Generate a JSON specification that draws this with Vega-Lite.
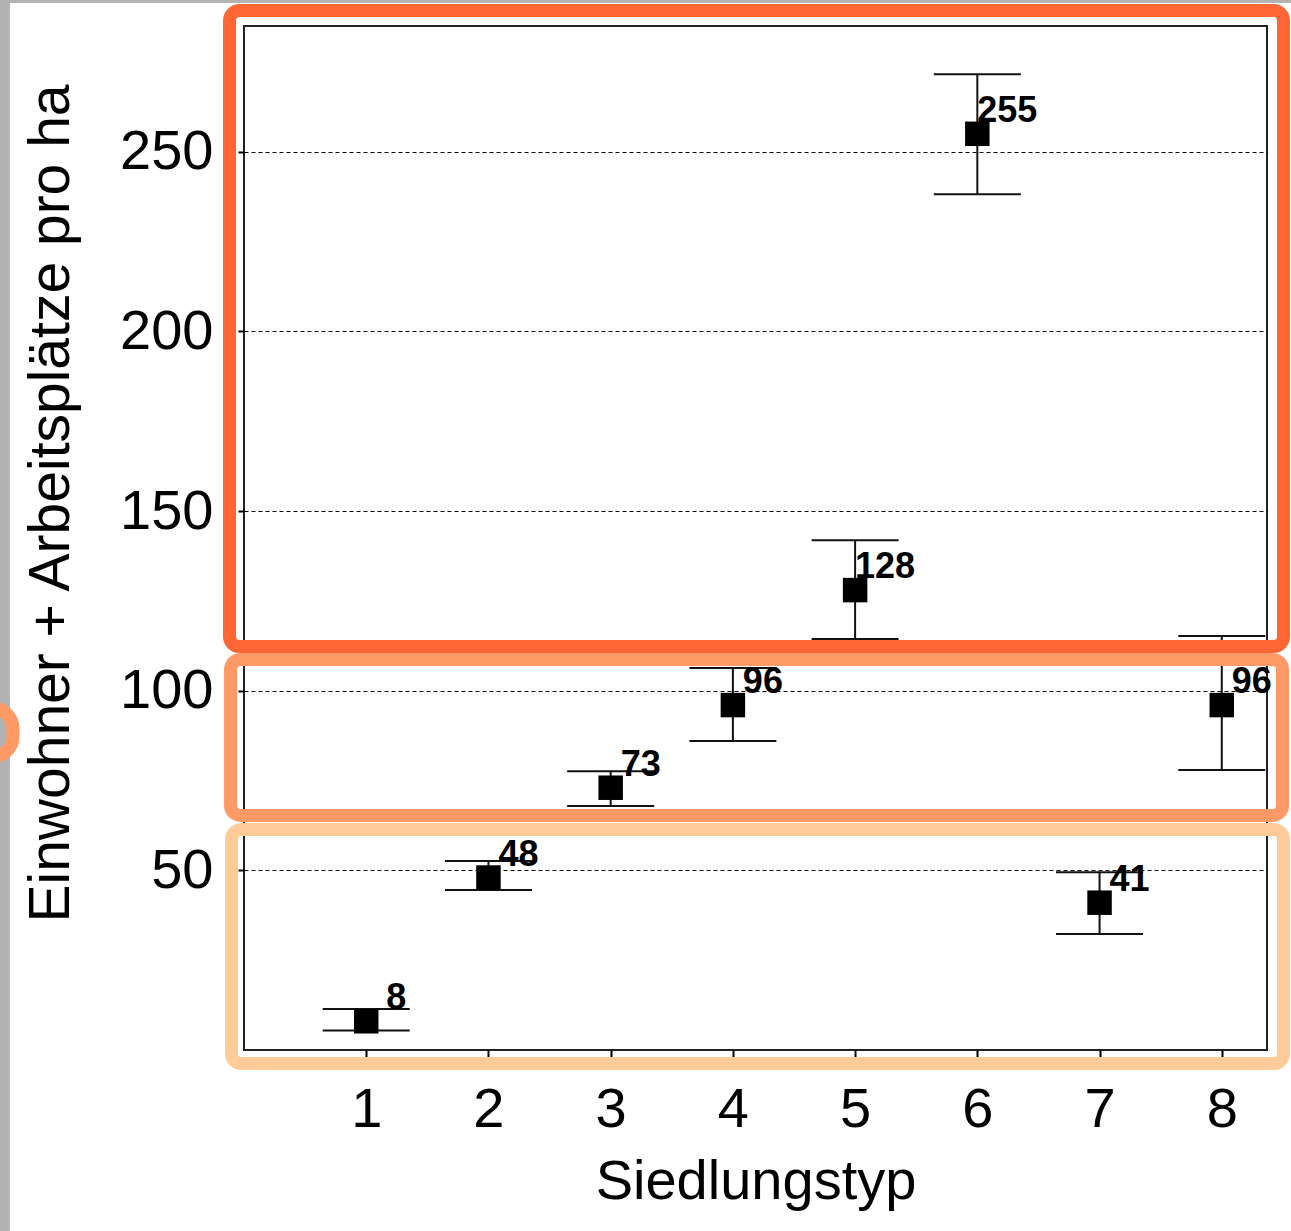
{
  "$schema": "https://vega.github.io/schema/vega-lite/v6.json",
  "autosize": "none",
  "width": 1023,
  "height": 1024,
  "padding": {"left": 244, "top": 26, "right": 24, "bottom": 181},
  "background": "white",
  "config": {
    "view": {"stroke": "#222222", "strokeWidth": 2},
    "font": "Liberation Sans"
  },
  "datasets": {
    "points": [
      {"typ": 1, "value": 8, "lo": 5.4, "hi": 11.4},
      {"typ": 2, "value": 48, "lo": 44.5, "hi": 52.6},
      {"typ": 3, "value": 73, "lo": 67.9, "hi": 77.6},
      {"typ": 4, "value": 96, "lo": 86.0, "hi": 106.3},
      {"typ": 5, "value": 128, "lo": 114.4, "hi": 141.9},
      {"typ": 6, "value": 255, "lo": 238.2, "hi": 271.6},
      {"typ": 7, "value": 41, "lo": 32.3, "hi": 49.5},
      {"typ": 8, "value": 96, "lo": 77.9, "hi": 115.2}
    ],
    "grayside": [{"x1": -2.1, "x2": -1.915, "y1": 300, "y2": -60}],
    "graytop": [{"x1": -2.1, "x2": 8.7, "y1": 300, "y2": 291.4}],
    "bracket": [{"x1": -2.487, "x2": -1.89, "y1": 95.05, "y2": 81.7}],
    "box1": [{"x1": -0.1186, "x2": 8.505, "y1": 289.3, "y2": 112.3}],
    "box2": [{"x1": -0.110, "x2": 8.497, "y1": 108.7, "y2": 65.3}],
    "box3": [{"x1": -0.102, "x2": 8.505, "y1": 61.4, "y2": -3.76}]
  },
  "layer": [
    {
      "data": {"name": "grayside"},
      "mark": {"type": "rect", "fill": "#b3b3b3", "clip": false},
      "encoding": {
        "x": {"field": "x1", "type": "quantitative"}, "x2": {"field": "x2"},
        "y": {"field": "y1", "type": "quantitative"}, "y2": {"field": "y2"}
      }
    },
    {
      "data": {"name": "graytop"},
      "mark": {"type": "rect", "fill": "#b3b3b3", "clip": false},
      "encoding": {
        "x": {"field": "x1", "type": "quantitative"}, "x2": {"field": "x2"},
        "y": {"field": "y1", "type": "quantitative"}, "y2": {"field": "y2"}
      }
    },
    {
      "data": {"name": "bracket"},
      "mark": {"type": "rect", "fillOpacity": 0, "stroke": "#FF9966", "strokeWidth": 13, "cornerRadius": 20, "clip": false},
      "encoding": {
        "x": {"field": "x1", "type": "quantitative"}, "x2": {"field": "x2"},
        "y": {"field": "y1", "type": "quantitative"}, "y2": {"field": "y2"}
      }
    },
    {
      "data": {"name": "points"},
      "mark": {"type": "rule", "color": "#111111", "strokeWidth": 2},
      "encoding": {
        "x": {"field": "typ", "type": "quantitative"},
        "y": {"field": "lo", "type": "quantitative"}, "y2": {"field": "hi"}
      }
    },
    {
      "data": {"name": "points"},
      "mark": {"type": "tick", "orient": "horizontal", "size": 87, "thickness": 2, "color": "#111111", "opacity": 1},
      "encoding": {
        "x": {"field": "typ", "type": "quantitative"},
        "y": {"field": "lo", "type": "quantitative"}
      }
    },
    {
      "data": {"name": "points"},
      "mark": {"type": "tick", "orient": "horizontal", "size": 87, "thickness": 2, "color": "#111111", "opacity": 1},
      "encoding": {
        "x": {"field": "typ", "type": "quantitative"},
        "y": {"field": "hi", "type": "quantitative"}
      }
    },
    {
      "data": {"name": "points"},
      "mark": {"type": "point", "shape": "square", "filled": true, "size": 600, "color": "black", "opacity": 1},
      "encoding": {
        "x": {
          "field": "typ", "type": "quantitative",
          "scale": {"domain": [0, 8.37], "nice": false, "zero": false},
          "axis": {
            "title": "Siedlungstyp",
            "values": [1, 2, 3, 4, 5, 6, 7, 8],
            "format": "d",
            "grid": false,
            "domain": false,
            "ticks": true, "tickSize": 8, "tickColor": "black", "tickWidth": 2,
            "labelFont": "Liberation Sans", "labelFontSize": 56, "labelColor": "black",
            "labelBaseline": "alphabetic", "labelPadding": 68, "labelFlush": false,
            "titleFont": "Liberation Sans", "titleFontSize": 56, "titleFontWeight": "normal", "titleColor": "black",
            "titleBaseline": "alphabetic", "titleY": 148, "titleAnchor": "middle"
          }
        },
        "y": {
          "field": "value", "type": "quantitative",
          "scale": {"domain": [0, 285], "nice": false, "zero": false},
          "axis": {
            "title": "Einwohner + Arbeitsplätze pro ha",
            "values": [50, 100, 150, 200, 250],
            "grid": true, "gridDash": [4, 3], "gridColor": "black", "gridWidth": 1, "gridOpacity": 1,
            "domain": false,
            "ticks": true, "tickSize": 6, "tickColor": "black", "tickWidth": 2,
            "labelFont": "Liberation Sans", "labelFontSize": 56, "labelColor": "black", "labelPadding": 25,
            "titleFont": "Liberation Sans", "titleFontSize": 57, "titleFontWeight": "normal", "titleColor": "black",
            "titleAngle": 270, "titleX": -176, "titleY": 477, "titleBaseline": "alphabetic", "titleAlign": "center"
          }
        }
      }
    },
    {
      "data": {"name": "points"},
      "mark": {"type": "text", "dx": 30, "dy": -23, "fontSize": 36, "fontWeight": "bold", "font": "Liberation Sans", "align": "center", "baseline": "middle", "color": "black"},
      "encoding": {
        "x": {"field": "typ", "type": "quantitative"},
        "y": {"field": "value", "type": "quantitative"},
        "text": {"field": "value", "type": "quantitative"}
      }
    },
    {
      "data": {"name": "box1"},
      "mark": {"type": "rect", "fillOpacity": 0, "stroke": "#FF6633", "strokeWidth": 13, "cornerRadius": 10, "clip": false},
      "encoding": {
        "x": {"field": "x1", "type": "quantitative"}, "x2": {"field": "x2"},
        "y": {"field": "y1", "type": "quantitative"}, "y2": {"field": "y2"}
      }
    },
    {
      "data": {"name": "box2"},
      "mark": {"type": "rect", "fillOpacity": 0, "stroke": "#FF9966", "strokeWidth": 13, "cornerRadius": 10, "clip": false},
      "encoding": {
        "x": {"field": "x1", "type": "quantitative"}, "x2": {"field": "x2"},
        "y": {"field": "y1", "type": "quantitative"}, "y2": {"field": "y2"}
      }
    },
    {
      "data": {"name": "box3"},
      "mark": {"type": "rect", "fillOpacity": 0, "stroke": "#FFCC99", "strokeWidth": 13, "cornerRadius": 10, "clip": false},
      "encoding": {
        "x": {"field": "x1", "type": "quantitative"}, "x2": {"field": "x2"},
        "y": {"field": "y1", "type": "quantitative"}, "y2": {"field": "y2"}
      }
    }
  ]
}
